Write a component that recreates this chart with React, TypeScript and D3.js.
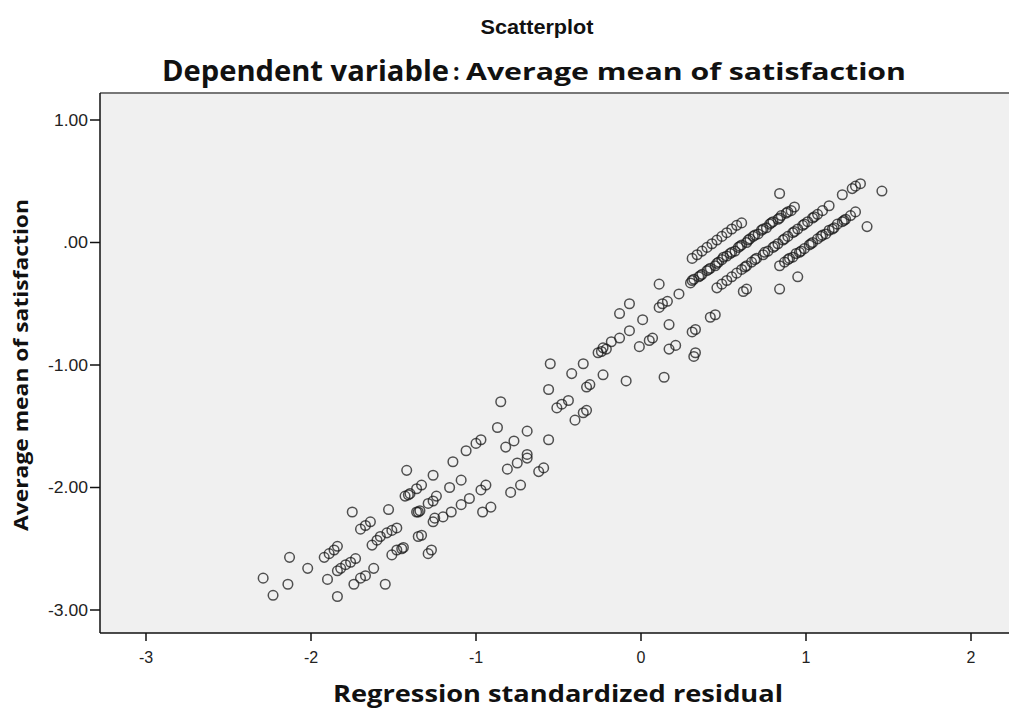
import React from "react";
import { scaleLinear } from "d3";

// residual (x) / average mean of satisfaction (y)
const lowCluster: [number, number][] = [
  [-1.42, -1.86], [-1.26, -1.9], [-1.33, -1.98], [-1.36, -2.01], [-1.43, -2.07], [-1.4, -2.05],
  [-1.75, -2.2], [-1.53, -2.18], [-1.64, -2.28], [-1.67, -2.31], [-1.7, -2.34], [-1.48, -2.33],
  [-1.51, -2.35], [-1.54, -2.37], [-1.58, -2.4], [-1.6, -2.43], [-1.63, -2.47], [-1.34, -2.19],
  [-1.36, -2.2], [-1.26, -2.11], [-1.29, -2.13], [-1.33, -2.39], [-1.35, -2.4], [-1.26, -2.28],
  [-1.44, -2.49], [-1.48, -2.51], [-1.51, -2.55], [-1.27, -2.51], [-1.29, -2.54], [-1.84, -2.48],
  [-1.86, -2.51], [-1.89, -2.54], [-1.92, -2.57], [-1.73, -2.58], [-1.76, -2.61], [-1.79, -2.63],
  [-1.82, -2.66], [-1.84, -2.68], [-1.62, -2.66], [-1.67, -2.72], [-1.7, -2.74], [-1.74, -2.79],
  [-2.13, -2.57], [-2.02, -2.66], [-1.9, -2.75], [-2.29, -2.74], [-2.14, -2.79], [-2.23, -2.88],
  [-1.84, -2.89], [-1.55, -2.79], [-1.41, -2.06], [-1.35, -2.2], [-1.45, -2.5],
];

const midCluster: [number, number][] = [
  [-0.24, -0.89], [-0.26, -0.9], [-0.21, -0.87], [-0.55, -0.99], [-0.35, -0.99], [-0.42, -1.07],
  [-0.23, -1.08], [-0.31, -1.16], [-0.33, -1.18], [-0.56, -1.2], [-0.44, -1.29], [-0.48, -1.32],
  [-0.51, -1.35], [-0.33, -1.37], [-0.35, -1.39], [-0.4, -1.45], [-0.85, -1.3], [-0.87, -1.51],
  [-0.69, -1.54], [-0.56, -1.61], [-0.97, -1.61], [-1.0, -1.64], [-0.77, -1.62], [-0.82, -1.67],
  [-1.06, -1.7], [-0.69, -1.73], [-0.69, -1.76], [-0.75, -1.8], [-0.81, -1.85], [-0.59, -1.84],
  [-0.62, -1.87], [-1.14, -1.79], [-1.09, -1.94], [-1.16, -2.0], [-0.94, -1.98], [-0.97, -2.02],
  [-0.73, -1.98], [-0.79, -2.04], [-1.24, -2.07], [-1.04, -2.09], [-1.09, -2.14], [-0.91, -2.16],
  [-0.96, -2.2], [-1.15, -2.2], [-1.2, -2.24], [-1.25, -2.25],
];

const nearZero: [number, number][] = [
  [0.11, -0.34], [0.23, -0.42], [0.16, -0.48], [0.13, -0.5], [0.11, -0.53], [-0.07, -0.5],
  [-0.13, -0.58], [0.01, -0.63], [0.45, -0.59], [0.42, -0.61], [0.17, -0.67], [0.33, -0.71],
  [0.31, -0.73], [-0.07, -0.72], [-0.13, -0.78], [-0.18, -0.81], [-0.23, -0.86], [0.07, -0.78],
  [0.05, -0.8], [-0.01, -0.85], [0.21, -0.84], [0.17, -0.87], [0.33, -0.9], [0.32, -0.93],
  [-0.09, -1.13], [0.14, -1.1],
];

const bandA: [number, number][] = [
  [0.31, -0.13], [0.34, -0.1], [0.37, -0.07], [0.4, -0.04], [0.43, -0.01], [0.46, 0.02],
  [0.49, 0.05], [0.52, 0.08], [0.55, 0.11], [0.58, 0.14], [0.61, 0.16],
];

const bandB: [number, number][] = [
  [0.3, -0.33], [0.32, -0.3], [0.35, -0.28], [0.37, -0.26], [0.4, -0.23], [0.42, -0.21],
  [0.45, -0.19], [0.47, -0.16], [0.49, -0.14], [0.52, -0.11], [0.54, -0.09], [0.57, -0.07],
  [0.59, -0.04], [0.61, -0.02], [0.64, 0.0], [0.66, 0.03], [0.68, 0.05], [0.71, 0.07],
  [0.73, 0.1], [0.76, 0.12], [0.78, 0.15], [0.8, 0.17], [0.83, 0.19], [0.85, 0.22],
  [0.88, 0.24], [0.91, 0.26], [0.93, 0.29],
  [0.31, -0.31], [0.36, -0.27], [0.41, -0.22], [0.46, -0.17], [0.5, -0.12], [0.55, -0.08],
  [0.6, -0.03], [0.65, 0.02], [0.69, 0.06], [0.74, 0.11], [0.79, 0.16], [0.84, 0.2],
  [0.89, 0.25],
];

const bandC: [number, number][] = [
  [0.46, -0.37], [0.49, -0.34], [0.52, -0.31], [0.55, -0.28], [0.58, -0.25], [0.61, -0.22],
  [0.64, -0.19], [0.67, -0.16], [0.7, -0.13], [0.74, -0.1], [0.77, -0.07], [0.8, -0.04],
  [0.83, -0.01], [0.86, 0.02], [0.89, 0.05], [0.92, 0.08], [0.95, 0.11], [0.98, 0.14],
  [1.01, 0.17], [1.04, 0.2], [1.07, 0.23], [1.1, 0.26], [1.14, 0.3],
  [0.63, -0.2], [0.69, -0.14], [0.75, -0.08], [0.81, -0.03], [0.87, 0.03], [0.93, 0.09],
  [0.99, 0.15], [1.05, 0.21],
];

const bandD: [number, number][] = [
  [0.84, -0.19], [0.87, -0.16], [0.89, -0.14], [0.92, -0.12], [0.94, -0.09], [0.97, -0.07],
  [0.99, -0.05], [1.02, -0.02], [1.04, 0.0], [1.07, 0.03], [1.09, 0.05], [1.12, 0.07],
  [1.14, 0.1], [1.17, 0.12], [1.19, 0.15], [1.22, 0.17], [1.24, 0.19], [1.27, 0.22],
  [1.3, 0.25],
  [0.9, -0.13], [0.96, -0.08], [1.03, -0.01], [1.1, 0.06], [1.16, 0.11], [1.23, 0.18],
];

const upperStray: [number, number][] = [
  [0.84, 0.4], [1.46, 0.42], [1.33, 0.48], [1.3, 0.46], [1.28, 0.44], [1.22, 0.39],
  [1.37, 0.13], [0.95, -0.28], [0.84, -0.38], [0.64, -0.38], [0.62, -0.4],
];

const points = [
  ...lowCluster, ...midCluster, ...nearZero,
  ...bandA, ...bandB, ...bandC, ...bandD, ...upperStray,
];

const xTicks = [-3, -2, -1, 0, 1, 2];
const yTicks = [1, 0, -1, -2, -3];
const yTickLabel = (v: number) => (v === 0 ? ".00" : v.toFixed(2));

export default function App() {
  const width = 1009;
  const height = 711;
  const plot = { left: 100, right: 1009, top: 93, bottom: 633 };

  const xScale = scaleLinear().domain([0, 1]).range([641, 806]);
  const yScale = scaleLinear().domain([0, 1]).range([242.5, 120]);

  const sans = "'Liberation Sans', Arial, sans-serif";
  const bold = "'Open Sans', 'Liberation Sans', sans-serif";
  const narrow = "'Liberation Sans Narrow', 'Open Sans', sans-serif";

  const labelLen = (t: number) => (t < 0 ? 40 : t === 0 ? 25 : 34);

  return (
    <svg
      width={width}
      height={height}
      style={{ position: "absolute", left: 0, top: 0, background: "#fff" }}
    >
      <text x={537} y={34} textAnchor="middle" fontFamily={sans} fontSize={21} fontWeight={700} fill="#111" textLength={113} lengthAdjust="spacingAndGlyphs">
        Scatterplot
      </text>
      <text x={162} y={81} fontFamily={narrow} fontSize={28} fontWeight={700} fill="#111" textLength={287} lengthAdjust="spacingAndGlyphs">
        Dependent variable
      </text>
      <text x={453} y={80} fontFamily={bold} fontSize={23} fontWeight={700} fill="#111">
        :
      </text>
      <text x={466} y={80} fontFamily={bold} fontSize={24} fontWeight={700} fill="#111" textLength={440} lengthAdjust="spacingAndGlyphs">
        Average mean of satisfaction
      </text>

      <rect x={plot.left} y={plot.top} width={plot.right - plot.left} height={plot.bottom - plot.top} fill="#f0f0f0" />
      <line x1={plot.left} x2={plot.right} y1={plot.top} y2={plot.top} stroke="#777" strokeWidth={2} />

      <g>
        {points.map(([x, y], i) => (
          <circle
            key={i}
            cx={xScale(x)}
            cy={yScale(y)}
            r={4.8}
            fill="none"
            stroke="#1a1a1a"
            strokeOpacity={0.75}
            strokeWidth={1.5}
          />
        ))}
      </g>

      <line x1={plot.left} x2={plot.left} y1={plot.top} y2={plot.bottom} stroke="#111" strokeWidth={1.5} />
      <line x1={plot.left} x2={plot.right} y1={plot.bottom} y2={plot.bottom} stroke="#111" strokeWidth={1.5} />

      {yTicks.map((t) => (
        <g key={t} transform={`translate(0,${yScale(t)})`}>
          <line x1={90} x2={plot.left} stroke="#111" strokeWidth={1.5} />
          <text x={88} dy="0.35em" textAnchor="end" fontFamily={sans} fontSize={16} fill="#222" textLength={labelLen(t)} lengthAdjust="spacingAndGlyphs">
            {yTickLabel(t)}
          </text>
        </g>
      ))}

      {xTicks.map((t) => (
        <g key={t} transform={`translate(${xScale(t)},0)`}>
          <line y1={plot.bottom} y2={plot.bottom + 8} stroke="#111" strokeWidth={1.5} />
          <text y={plot.bottom + 30} textAnchor="middle" fontFamily={sans} fontSize={16} fill="#222">
            {t}
          </text>
        </g>
      ))}

      <text x={558} y={702} textAnchor="middle" fontFamily={bold} fontSize={23} fontWeight={700} fill="#111" textLength={450} lengthAdjust="spacingAndGlyphs">
        Regression standardized residual
      </text>
      <text
        transform="translate(28,365) rotate(-90)"
        textAnchor="middle"
        fontFamily={bold}
        fontSize={19}
        fontWeight={700}
        fill="#111"
        textLength={332}
        lengthAdjust="spacingAndGlyphs"
      >
        Average mean of satisfaction
      </text>
    </svg>
  );
}
